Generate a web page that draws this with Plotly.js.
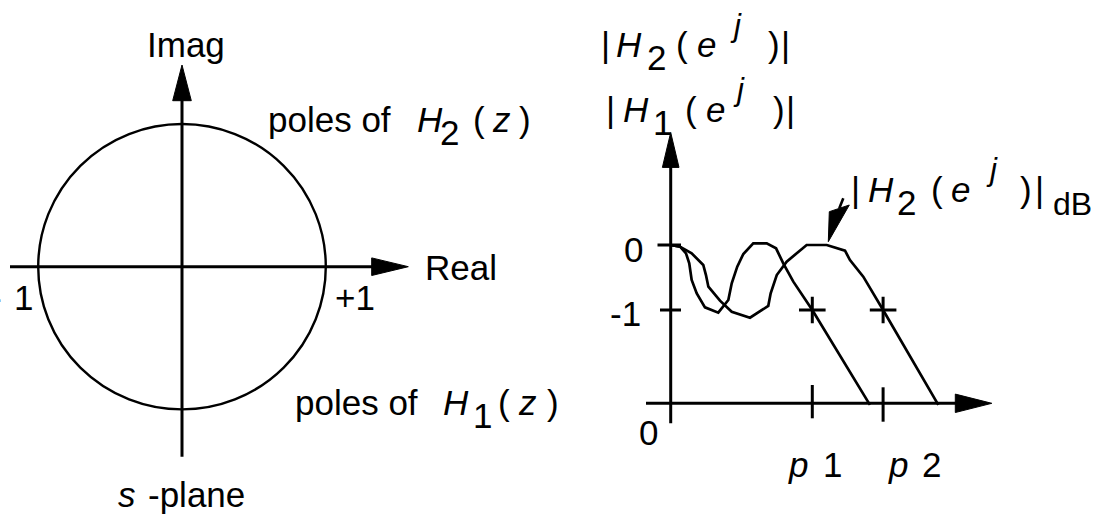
<!DOCTYPE html>
<html>
<head>
<meta charset="utf-8">
<script src="https://cdn.plot.ly/plotly-3.0.1.min.js"></script>
<style>
  html, body { margin: 0; padding: 0; background: #fff; }
  #chart { width: 1101px; height: 517px; }
</style>
</head>
<body>
<div id="chart"></div>
<script>
// ---------------- data ----------------
// unit circle of the plane and its real-axis marks
const unitRadius = 1;
const realTickVals = [-1, 1];
const realTickText = ['-1', '+1'];
const planeAxisNames = ['Real', 'Imag'];
const planeName = ['s', '-plane'];

// magnitude responses in dB, frequency normalised so that p1 = 1
const h1Freq = [0, 0.066, 0.108, 0.131, 0.148, 0.184, 0.242, 0.336, 0.407, 0.431, 0.470, 0.513, 0.583, 0.678, 0.744, 0.795, 0.866, 1.0, 1.407];
const h1Gain = [0, -0.026, -0.128, -0.282, -0.538, -0.744, -0.959, -1.041, -0.846, -0.590, -0.333, -0.138, 0.026, 0.026, -0.051, -0.282, -0.564, -1.0, -2.46];
const h2Freq = [0, 0.066, 0.148, 0.230, 0.249, 0.266, 0.348, 0.431, 0.560, 0.689, 0.706, 0.749, 0.819, 0.960, 1.102, 1.231, 1.266, 1.360, 1.5, 1.890];
const h2Gain = [0, -0.026, -0.128, -0.308, -0.462, -0.641, -0.856, -1.026, -1.118, -0.938, -0.744, -0.462, -0.256, 0, 0, -0.087, -0.231, -0.487, -1.0, -2.46];

// passband edges p1, p2 (where each response reaches -1 dB)
const edgeFreq = [1.0, 1.5];
const edgeGain = [-1, -1];
const edgeNames = ['1', '2'];
const gainTickVals = [0, -1];
const gainTickText = ['0', '-1'];

// ---------------- geometry ----------------
const W = 1101, H = 517;
const FONT = 'Liberation Sans, Arial, Helvetica, sans-serif';
const FS = 35;
const INK = '#000';

// left plane: pixel centre and radii of the unit circle
const PL = { cx: 182, cy: 266.7, rx: 143.8, ry: 142.7 };
// right plot: pixel of (0, 0 dB), px per frequency unit, px per dB
const FR = { ox: 670.7, oy: 245, sx: 141.6, sy: 65 };

const lx = px => (px - PL.cx) / PL.rx;
const ly = py => (PL.cy - py) / PL.ry;
const rx = px => (px - FR.ox) / FR.sx;
const ry = py => (FR.oy - py) / FR.sy;

const half = W / 2;
const axisOff = { visible: false, fixedrange: true, showgrid: false, zeroline: false };

// ---------------- shapes ----------------
const shapes = [];
function seg(ref, x0, y0, x1, y1, w) {
  shapes.push({ type: 'line', xref: ref[0], yref: ref[1], x0, y0, x1, y1,
                line: { color: INK, width: w } });
}
function tri(ref, pts) {
  shapes.push({ type: 'path', xref: ref[0], yref: ref[1],
                path: 'M' + pts.map(p => p.join(',')).join('L') + 'Z',
                fillcolor: INK, line: { color: INK, width: 1 } });
}
const LEFT = ['x', 'y'], RIGHT = ['x2', 'y2'];

// unit circle
shapes.push({ type: 'circle', xref: 'x', yref: 'y',
              x0: -unitRadius, x1: unitRadius, y0: -unitRadius, y1: unitRadius,
              line: { color: INK, width: 2.4 } });
// real axis with arrow
seg(LEFT, lx(10), 0, lx(373), 0, 3);
tri(LEFT, [[lx(408.3), 0], [lx(371.7), ly(PL.cy - 8.8)], [lx(371.7), ly(PL.cy + 8.8)]]);
// imaginary axis with arrow
seg(LEFT, 0, ly(456.7), 0, ly(99), 3);
tri(LEFT, [[0, ly(65)], [lx(PL.cx - 9.3), ly(100.7)], [lx(PL.cx + 9.3), ly(100.7)]]);

// frequency axis with arrow
const baseY = ry(403.3);
seg(RIGHT, rx(646), baseY, rx(957), baseY, 3);
tri(RIGHT, [[rx(991.8), baseY], [rx(955.3), ry(403.3 - 9.2)], [rx(955.3), ry(403.3 + 9.2)]]);
// magnitude axis with arrow
seg(RIGHT, 0, ry(423.3), 0, ry(166), 3);
tri(RIGHT, [[0, ry(132.5)], [rx(FR.ox - 8.3), ry(167.4)], [rx(FR.ox + 8.3), ry(167.4)]]);
// gain ticks
seg(RIGHT, rx(657.5), gainTickVals[0], rx(681), gainTickVals[0], 3);
seg(RIGHT, rx(660), gainTickVals[1], rx(681), gainTickVals[1], 3);
// edge frequency ticks
seg(RIGHT, edgeFreq[0], ry(418.3), edgeFreq[0], ry(385), 3);
seg(RIGHT, edgeFreq[1], ry(421.7), edgeFreq[1], ry(387.3), 3);
// pointer to the |H2| curve
seg(RIGHT, rx(843.3), ry(198.3), rx(839.3), ry(208.3), 2.6);
tri(RIGHT, [[rx(828.3), ry(241.7)], [rx(829.3), ry(211.7)], [rx(849.3), ry(205)]]);

// ---------------- text ----------------
const annotations = [];
function put(text, left, baseline, o = {}) {
  const fs = o.size || FS;
  annotations.push({
    xref: 'paper', yref: 'paper',
    x: (left - 2.5) / W, y: 1 - (baseline - 0.3465 * fs) / H,
    xanchor: 'left', yanchor: 'middle',
    text: o.italic ? '<i>' + text + '</i>' : text,
    showarrow: false,
    font: { family: FONT, size: fs, color: INK }
  });
}
// pieces: [text, left, kind]  kind: '' upright, 'i' italic, 'sub', 'sup'
function formula(parts, baseline) {
  parts.forEach(([t, x, k]) => {
    if (k === 'sub') put(t, x, baseline + 13);
    else if (k === 'sup') put(t, x, baseline - 21, { italic: true, size: 31 });
    else put(t, x, baseline, { italic: k === 'i' });
  });
}

// left plane labels
put(planeAxisNames[1], 147, 57);
put(planeAxisNames[0], 425, 280);
put(realTickText[1], 335, 310);
put(realTickText[0].charAt(0), -10, 310);
put(realTickText[0].charAt(1), 14, 310);
formula([['poles of', 268.3], ['H', 417, 'i'], ['2', 440, 'sub'], ['(', 473], ['z', 493, 'i'], [')', 519]], 131.7);
formula([['poles of', 295], ['H', 443, 'i'], ['1', 473, 'sub'], ['(', 498], ['z', 518, 'i'], [')', 547]], 415);
put(planeName[0], 118, 506.7, { italic: true });
put(planeName[1], 148, 506.7);

// magnitude axis labels
formula([['|', 601.7], ['H', 616.7, 'i'], ['2', 647, 'sub'], ['(', 676], ['e', 698, 'i'], ['j', 730, 'sup'], [')', 768], ['|', 781.7]], 57);
formula([['|', 606.7], ['H', 623, 'i'], ['1', 653, 'sub'], ['(', 685], ['e', 706.7, 'i'], ['j', 733, 'sup'], [')', 773], ['|', 786.7]], 121.7);
formula([['|', 851.7], ['H', 868, 'i'], ['2', 897, 'sub'], ['(', 931.7], ['e', 951.7, 'i'], ['j', 986.7, 'sup'], [')', 1020], ['|', 1035]], 201.7);
put('dB', 1053, 215, { size: 32 });

// gain tick labels
put(gainTickText[0], 624, 262);
put(gainTickText[1], 610, 326);
put('0', 639.3, 445);
// edge labels
put('p', 788, 476.7, { italic: true });
put(edgeNames[0], 823, 476.7);
put('p', 888, 476.7, { italic: true });
put(edgeNames[1], 922, 476.7);

// ---------------- traces ----------------
const line = { color: INK, width: 2.7 };
const traces = [
  { x: realTickVals, y: [0, 0], xaxis: 'x', yaxis: 'y', mode: 'markers',
    marker: { opacity: 0 }, hoverinfo: 'skip', showlegend: false },
  { name: '|H1|', x: h1Freq, y: h1Gain, xaxis: 'x2', yaxis: 'y2', mode: 'lines',
    line, showlegend: false },
  { name: '|H2|', x: h2Freq, y: h2Gain, xaxis: 'x2', yaxis: 'y2', mode: 'lines',
    line, showlegend: false },
  { name: 'edges', x: edgeFreq, y: edgeGain, xaxis: 'x2', yaxis: 'y2', mode: 'markers',
    marker: { symbol: 'cross-thin', size: 19, color: INK, line: { color: INK, width: 3 } },
    showlegend: false }
];

const layout = {
  width: W, height: H,
  margin: { l: 0, r: 0, t: 0, b: 0, pad: 0 },
  paper_bgcolor: '#fff', plot_bgcolor: 'rgba(0,0,0,0)',
  showlegend: false,
  xaxis: Object.assign({ domain: [0, 0.5], range: [lx(0), lx(half)], anchor: 'y' }, axisOff),
  yaxis: Object.assign({ domain: [0, 1], range: [ly(H), ly(0)], anchor: 'x' }, axisOff),
  xaxis2: Object.assign({ domain: [0.5, 1], range: [rx(half), rx(W)], anchor: 'y2' }, axisOff),
  yaxis2: Object.assign({ domain: [0, 1], range: [ry(H), ry(0)], anchor: 'x2' }, axisOff),
  shapes, annotations
};

Plotly.newPlot('chart', traces, layout, { staticPlot: true, displayModeBar: false });
</script>
</body>
</html>
